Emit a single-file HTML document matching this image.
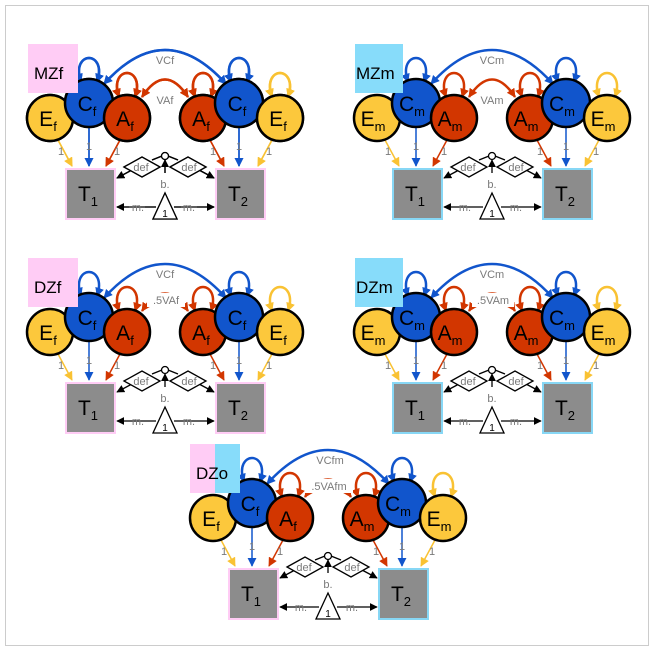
<!DOCTYPE html>
<html><head><meta charset="utf-8"><style>
html,body{margin:0;padding:0;background:#fff;}
svg{display:block;font-family:"Liberation Sans",Arial,sans-serif;}
.sm{font-size:11px;fill:#7a7a7a;text-anchor:middle;}
.cl{font-size:21px;fill:#000;text-anchor:middle;}
.lb{font-size:17px;fill:#000;}
</style></head><body>
<svg width="655" height="652" viewBox="0 0 655 652" xmlns="http://www.w3.org/2000/svg">
<defs>
<marker id="mb" viewBox="0 0 10 10" refX="9" refY="5" markerWidth="9" markerHeight="9" markerUnits="userSpaceOnUse" orient="auto-start-reverse"><path d="M0,0L10,5L0,10z" fill="#1155cc"/></marker>
<marker id="mr" viewBox="0 0 10 10" refX="9" refY="5" markerWidth="9" markerHeight="9" markerUnits="userSpaceOnUse" orient="auto-start-reverse"><path d="M0,0L10,5L0,10z" fill="#d23600"/></marker>
<marker id="my" viewBox="0 0 10 10" refX="9" refY="5" markerWidth="9" markerHeight="9" markerUnits="userSpaceOnUse" orient="auto-start-reverse"><path d="M0,0L10,5L0,10z" fill="#f9c233"/></marker>
<marker id="mk" viewBox="0 0 10 10" refX="9" refY="5" markerWidth="8" markerHeight="8" markerUnits="userSpaceOnUse" orient="auto-start-reverse"><path d="M0,0L10,5L0,10z" fill="#000"/></marker>
<g id="base">
 <g fill="none" stroke-width="2.5">
  <path d="M81,82 C70,50 108,50 97,82" stroke="#1155cc" marker-start="url(#mb)" marker-end="url(#mb)"/>
  <path d="M231,82 C220,50 258,50 247,82" stroke="#1155cc" marker-start="url(#mb)" marker-end="url(#mb)"/>
  <path d="M119,97 C108,65 146,65 135,97" stroke="#d23600" marker-start="url(#mr)" marker-end="url(#mr)"/>
  <path d="M195,97 C184,65 222,65 211,97" stroke="#d23600" marker-start="url(#mr)" marker-end="url(#mr)"/>
  <path d="M272,97 C261,65 299,65 288,97" stroke="#f9c233" marker-start="url(#my)" marker-end="url(#my)"/>
  <path d="M104,84 Q165,16 226,84" stroke="#1155cc" marker-start="url(#mb)" marker-end="url(#mb)"/>
  <path d="M142,97 Q165,62 188,97" stroke="#d23600" marker-start="url(#mr)" marker-end="url(#mr)"/>
  <path d="M58,140 L72,166" stroke="#f9c233" stroke-width="1.5" marker-end="url(#my)"/>
  <path d="M89,127 L89,166" stroke="#1155cc" stroke-width="1.5" marker-end="url(#mb)"/>
  <path d="M120,140 L106,166" stroke="#d23600" stroke-width="1.5" marker-end="url(#mr)"/>
  <path d="M272,140 L258,166" stroke="#f9c233" stroke-width="1.5" marker-end="url(#my)"/>
  <path d="M239,127 L239,166" stroke="#1155cc" stroke-width="1.5" marker-end="url(#mb)"/>
  <path d="M210,140 L224,166" stroke="#d23600" stroke-width="1.5" marker-end="url(#mr)"/>
 </g>
 <g stroke="#000" stroke-width="2.5">
  <circle cx="50" cy="118" r="23" fill="#fcc83c"/>
  <circle cx="89" cy="103" r="24" fill="#1155cc"/>
  <circle cx="127" cy="118" r="23" fill="#d23600"/>
  <circle cx="203" cy="118" r="23" fill="#d23600"/>
  <circle cx="239" cy="103" r="24" fill="#1155cc"/>
  <circle cx="280" cy="118" r="23" fill="#fcc83c"/>
 </g>
 <rect x="65" y="168" width="51" height="52" fill="#8c8c8c"/>
 <rect x="215" y="168" width="51" height="52" fill="#8c8c8c"/>
 <g fill="none" stroke="#000" stroke-width="1.3">
  <path d="M162,156 L152,160"/><path d="M168,156 L178,160"/>
  <path d="M132,170 L117,178" marker-end="url(#mk)"/>
  <path d="M199,170 L214,178" marker-end="url(#mk)"/>
  <path d="M165,173 L165,160" marker-end="url(#mk)"/>
  <path d="M124,167 L142,157 L160,167 L142,177 Z" fill="#fff"/>
  <path d="M170,167 L188,157 L206,167 L188,177 Z" fill="#fff"/>
  <circle cx="165" cy="156" r="3.5" fill="#fff"/>
  <path d="M165,193 L177,219 L153,219 Z" fill="#fff"/>
  <path d="M156,207 L117,207" marker-end="url(#mk)"/>
  <path d="M174,207 L214,207" marker-end="url(#mk)"/>
 </g>
</g>
<g id="txt">
 <text class="sm" x="61" y="155">1</text><text class="sm" x="89" y="150">1</text><text class="sm" x="117" y="155">1</text>
 <text class="sm" x="269" y="155">1</text><text class="sm" x="239" y="150">1</text><text class="sm" x="213" y="155">1</text>
 <text class="sm" x="141" y="171">def</text><text class="sm" x="189" y="171">def</text>
 <text class="sm" x="165" y="188">b.</text>
 <text class="sm" x="165" y="217" style="font-size:10px;fill:#000">1</text>
</g>
</defs>
<rect x="5.5" y="5.5" width="643" height="640" fill="none" stroke="#ccc"/>
<g>
 <use href="#base"/>
 <g fill="#fff"><rect x="129" y="202" width="16" height="11"/><rect x="181" y="202" width="16" height="11"/></g>
</g>
<!-- Panel 1 MZf -->
<g transform="translate(0,0)">
 <use href="#base"/><use href="#txt"/>
 <rect x="66" y="169" width="49" height="50" fill="none" stroke="#ffccf5" stroke-width="2"/>
 <rect x="216" y="169" width="49" height="50" fill="none" stroke="#ffccf5" stroke-width="2"/>
 <text class="sm" x="138" y="211">m.</text><text class="sm" x="189" y="211">m.</text>
 <text class="sm" x="165" y="64">VCf</text><text class="sm" x="165" y="104">VAf</text>
 <text class="cl" x="48" y="126">E<tspan font-size="13" dy="5">f</tspan></text>
 <text class="cl" x="87" y="111">C<tspan font-size="13" dy="5">f</tspan></text>
 <text class="cl" x="125" y="126">A<tspan font-size="13" dy="5">f</tspan></text>
 <text class="cl" x="201" y="126">A<tspan font-size="13" dy="5">f</tspan></text>
 <text class="cl" x="237" y="111">C<tspan font-size="13" dy="5">f</tspan></text>
 <text class="cl" x="278" y="126">E<tspan font-size="13" dy="5">f</tspan></text>
 <text class="cl" x="88" y="201">T<tspan font-size="13" dy="5">1</tspan></text>
 <text class="cl" x="238" y="201">T<tspan font-size="13" dy="5">2</tspan></text>
 <rect x="28" y="44" width="50" height="49" fill="#ffccf5"/>
 <text class="lb" x="34" y="79">MZf</text>
</g>
<!-- Panel 2 MZm -->
<g transform="translate(327,0)">
 <use href="#base"/><use href="#txt"/>
 <rect x="66" y="169" width="49" height="50" fill="none" stroke="#87d7f5" stroke-width="2"/>
 <rect x="216" y="169" width="49" height="50" fill="none" stroke="#87d7f5" stroke-width="2"/>
 <text class="sm" x="138" y="211">m.</text><text class="sm" x="189" y="211">m.</text>
 <text class="sm" x="165" y="64">VCm</text><text class="sm" x="165" y="104">VAm</text>
 <text class="cl" x="46" y="126">E<tspan font-size="13" dy="5">m</tspan></text>
 <text class="cl" x="85" y="111">C<tspan font-size="13" dy="5">m</tspan></text>
 <text class="cl" x="123" y="126">A<tspan font-size="13" dy="5">m</tspan></text>
 <text class="cl" x="199" y="126">A<tspan font-size="13" dy="5">m</tspan></text>
 <text class="cl" x="235" y="111">C<tspan font-size="13" dy="5">m</tspan></text>
 <text class="cl" x="276" y="126">E<tspan font-size="13" dy="5">m</tspan></text>
 <text class="cl" x="88" y="201">T<tspan font-size="13" dy="5">1</tspan></text>
 <text class="cl" x="238" y="201">T<tspan font-size="13" dy="5">2</tspan></text>
 <rect x="28" y="44" width="48" height="49" fill="#87dcfa"/>
 <text class="lb" x="29" y="79">MZm</text>
</g>
<!-- Panel 3 DZf -->
<g transform="translate(0,214)">
 <use href="#base"/><use href="#txt"/>
 <rect x="66" y="169" width="49" height="50" fill="none" stroke="#ffccf5" stroke-width="2"/>
 <rect x="216" y="169" width="49" height="50" fill="none" stroke="#ffccf5" stroke-width="2"/>
 <text class="sm" x="138" y="211">m.</text><text class="sm" x="189" y="211">m.</text>
 <text class="sm" x="165" y="64">VCf</text>
 <rect x="147" y="79" width="38" height="14" fill="#fff"/>
 <text class="sm" x="166" y="90">.5VAf</text>
 <text class="cl" x="48" y="126">E<tspan font-size="13" dy="5">f</tspan></text>
 <text class="cl" x="87" y="111">C<tspan font-size="13" dy="5">f</tspan></text>
 <text class="cl" x="125" y="126">A<tspan font-size="13" dy="5">f</tspan></text>
 <text class="cl" x="201" y="126">A<tspan font-size="13" dy="5">f</tspan></text>
 <text class="cl" x="237" y="111">C<tspan font-size="13" dy="5">f</tspan></text>
 <text class="cl" x="278" y="126">E<tspan font-size="13" dy="5">f</tspan></text>
 <text class="cl" x="88" y="201">T<tspan font-size="13" dy="5">1</tspan></text>
 <text class="cl" x="238" y="201">T<tspan font-size="13" dy="5">2</tspan></text>
 <rect x="28" y="44" width="50" height="49" fill="#ffccf5"/>
 <text class="lb" x="34" y="79">DZf</text>
</g>
<!-- Panel 4 DZm -->
<g transform="translate(327,214)">
 <use href="#base"/><use href="#txt"/>
 <rect x="66" y="169" width="49" height="50" fill="none" stroke="#87d7f5" stroke-width="2"/>
 <rect x="216" y="169" width="49" height="50" fill="none" stroke="#87d7f5" stroke-width="2"/>
 <text class="sm" x="138" y="211">m.</text><text class="sm" x="189" y="211">m.</text>
 <text class="sm" x="165" y="64">VCm</text>
 <rect x="145" y="79" width="42" height="14" fill="#fff"/>
 <text class="sm" x="166" y="90">.5VAm</text>
 <text class="cl" x="46" y="126">E<tspan font-size="13" dy="5">m</tspan></text>
 <text class="cl" x="85" y="111">C<tspan font-size="13" dy="5">m</tspan></text>
 <text class="cl" x="123" y="126">A<tspan font-size="13" dy="5">m</tspan></text>
 <text class="cl" x="199" y="126">A<tspan font-size="13" dy="5">m</tspan></text>
 <text class="cl" x="235" y="111">C<tspan font-size="13" dy="5">m</tspan></text>
 <text class="cl" x="276" y="126">E<tspan font-size="13" dy="5">m</tspan></text>
 <text class="cl" x="88" y="201">T<tspan font-size="13" dy="5">1</tspan></text>
 <text class="cl" x="238" y="201">T<tspan font-size="13" dy="5">2</tspan></text>
 <rect x="28" y="44" width="48" height="49" fill="#87dcfa"/>
 <text class="lb" x="29" y="79">DZm</text>
</g>
<!-- Panel 5 DZo -->
<g transform="translate(163,400)">
 <use href="#base"/><use href="#txt"/>
 <rect x="66" y="169" width="49" height="50" fill="none" stroke="#ffccf5" stroke-width="2"/>
 <rect x="216" y="169" width="49" height="50" fill="none" stroke="#87d7f5" stroke-width="2"/>
 <text class="sm" x="138" y="211">m.</text><text class="sm" x="189" y="211">m.</text>
 <text class="sm" x="167" y="64">VCfm</text>
 <rect x="142" y="79" width="48" height="14" fill="#fff"/>
 <text class="sm" x="166" y="90">.5VAfm</text>
 <text class="cl" x="48" y="126">E<tspan font-size="13" dy="5">f</tspan></text>
 <text class="cl" x="87" y="111">C<tspan font-size="13" dy="5">f</tspan></text>
 <text class="cl" x="125" y="126">A<tspan font-size="13" dy="5">f</tspan></text>
 <text class="cl" x="199" y="126">A<tspan font-size="13" dy="5">m</tspan></text>
 <text class="cl" x="235" y="111">C<tspan font-size="13" dy="5">m</tspan></text>
 <text class="cl" x="276" y="126">E<tspan font-size="13" dy="5">m</tspan></text>
 <text class="cl" x="88" y="201">T<tspan font-size="13" dy="5">1</tspan></text>
 <text class="cl" x="238" y="201">T<tspan font-size="13" dy="5">2</tspan></text>
 <rect x="27" y="44" width="25" height="49" fill="#ffccf5"/>
 <rect x="52" y="44" width="25" height="49" fill="#87dcfa"/>
 <text class="lb" x="33" y="79">DZo</text>
</g>
</svg>
</body></html>
